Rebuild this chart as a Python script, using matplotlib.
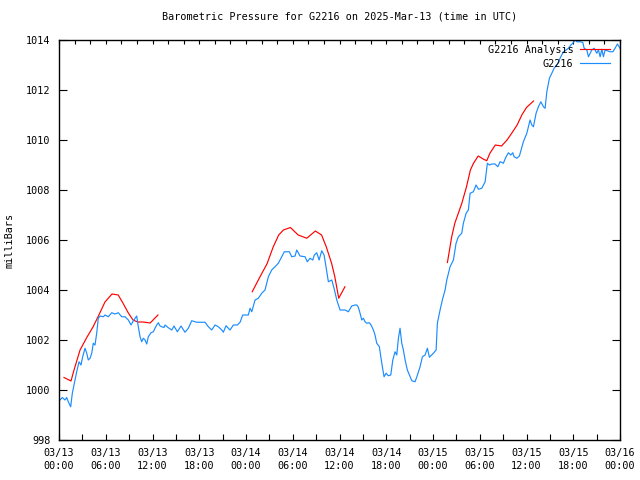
import matplotlib
matplotlib.use('Agg')
import matplotlib.pyplot as plt
import numpy as np

# hours since 2025-03-13 00:00 UTC
obs_hours = [0.13, 0.42, 0.77, 0.99, 1.19, 1.50, 1.71, 2.05, 2.27, 2.57, 2.82, 3.04, 3.34, 3.56,
             3.76, 3.98, 4.20, 4.40, 4.62, 4.84, 5.04, 5.26, 5.69, 5.91, 6.33, 6.77, 7.19, 7.61,
             8.05, 8.47, 8.90, 9.24, 9.54, 9.76, 9.97, 10.18, 10.40, 10.62, 10.82, 11.04, 11.26,
             11.46, 11.81, 12.11, 12.32, 12.54, 12.75, 12.97, 13.18, 13.48, 13.61, 14.03, 14.47,
             14.76, 15.19, 15.66, 16.17, 16.60, 17.03, 17.68, 18.74, 19.17, 19.60, 20.03, 20.45,
             20.89, 21.09, 21.44, 21.95, 22.38, 22.89, 23.24, 23.58, 24.30, 24.52, 24.74, 25.16,
             25.58, 26.02, 26.44, 26.87, 27.30, 27.73, 28.15, 28.59, 28.92, 29.56, 29.87, 30.30,
             30.51, 30.94, 31.58, 31.87, 32.22, 32.57, 32.77, 33.08, 33.38, 33.72, 34.02, 34.27,
             34.57, 35.01, 35.30, 35.65, 36.07, 36.71, 37.14, 37.57, 38.00, 38.22, 38.42, 38.64,
             38.86, 39.06, 39.28, 39.50, 39.83, 40.05, 40.35, 40.56, 40.78, 41.12, 41.30, 41.50,
             41.72, 41.98, 42.27, 42.58, 42.84, 43.13, 43.35, 43.56, 43.77, 43.99, 44.20, 44.42,
             44.71, 45.06, 45.28, 45.70, 46.00, 46.34, 46.64, 46.98, 47.28, 47.54, 48.05, 48.40,
             48.56, 48.91, 49.20, 49.55, 49.77, 50.19, 50.62, 50.96, 51.26, 51.69, 51.90, 52.25,
             52.54, 52.76, 53.18, 53.53, 53.83, 54.26, 54.69, 54.98, 55.24, 55.55, 55.97, 56.32,
             56.61, 57.03, 57.38, 57.68, 57.98, 58.24, 58.41, 58.76, 59.09, 59.31, 59.60, 60.04,
             60.46, 60.68, 60.89, 61.23, 61.53, 61.84, 62.17, 62.39, 62.61, 62.94, 63.25, 63.54,
             63.89, 64.10, 64.40, 64.74, 65.08, 65.38, 65.69, 65.94, 66.24, 66.46, 66.88, 67.23,
             67.40, 67.74, 67.95, 68.38, 68.68, 69.02, 69.23, 69.45, 69.67, 69.87, 70.09, 70.73,
             71.08, 71.37, 71.67, 72.00]
obs_mb = [999.60, 999.70, 999.60, 999.70, 999.53, 999.33, 999.87, 1000.40, 1000.73, 1001.13,
          1001.00, 1001.33, 1001.67, 1001.47, 1001.20, 1001.27, 1001.47, 1001.87, 1001.80,
          1002.27, 1002.87, 1002.96, 1002.93, 1003.00, 1002.93, 1003.09, 1003.04, 1003.09,
          1002.93, 1002.93, 1002.80, 1002.60, 1002.77, 1002.87, 1002.96, 1002.53, 1002.13,
          1001.93, 1002.07, 1002.00, 1001.84, 1002.13, 1002.29, 1002.33, 1002.47, 1002.60,
          1002.69, 1002.56, 1002.53, 1002.50, 1002.60, 1002.49, 1002.40, 1002.56, 1002.33,
          1002.56, 1002.31, 1002.47, 1002.77, 1002.71, 1002.71, 1002.53, 1002.40, 1002.60,
          1002.53, 1002.40, 1002.31, 1002.57, 1002.40, 1002.60, 1002.60, 1002.71, 1003.00,
          1003.00, 1003.27, 1003.13, 1003.60, 1003.67, 1003.87, 1004.00, 1004.53, 1004.80,
          1004.93, 1005.07, 1005.33, 1005.53, 1005.53, 1005.33, 1005.36, 1005.60, 1005.36,
          1005.33, 1005.13, 1005.27, 1005.20, 1005.40, 1005.49, 1005.20, 1005.57, 1005.40,
          1004.93, 1004.33, 1004.40, 1004.07, 1003.60, 1003.20, 1003.20, 1003.13, 1003.36,
          1003.40, 1003.40, 1003.31, 1003.07, 1002.80, 1002.87, 1002.73, 1002.67, 1002.69,
          1002.60, 1002.40, 1002.20, 1001.87, 1001.73, 1001.33, 1000.93, 1000.53, 1000.67,
          1000.57, 1000.60, 1001.20, 1001.53, 1001.40, 1002.07, 1002.47, 1001.87, 1001.60,
          1001.20, 1000.80, 1000.53, 1000.37, 1000.33, 1000.60, 1000.93, 1001.33, 1001.40,
          1001.67, 1001.31, 1001.47, 1001.60, 1002.67, 1003.20, 1003.60, 1004.00, 1004.40,
          1004.93, 1005.20, 1005.87, 1006.13, 1006.27, 1006.67, 1007.07, 1007.20, 1007.87,
          1007.93, 1008.20, 1008.03, 1008.07, 1008.33, 1009.07, 1009.00, 1009.04, 1009.04,
          1008.93, 1009.13, 1009.07, 1009.33, 1009.49, 1009.40, 1009.49, 1009.33, 1009.27,
          1009.36, 1009.60, 1009.93, 1010.27, 1010.80, 1010.60, 1010.53, 1011.07, 1011.33,
          1011.53, 1011.33, 1011.27, 1011.93, 1012.47, 1012.67, 1012.87, 1013.00, 1013.13,
          1013.33, 1013.53, 1013.60, 1013.67, 1013.80, 1013.87, 1014.00, 1013.93, 1013.93,
          1013.90, 1013.67, 1013.60, 1013.33, 1013.60, 1013.67, 1013.47, 1013.60, 1013.33,
          1013.63, 1013.33, 1013.60, 1013.53, 1013.53, 1013.67, 1013.84, 1013.67]

# analysis runs (three separate pieces)
ana1_hours = [0.64, 1.54, 1.93, 2.70, 3.60, 4.36, 5.00, 5.90, 6.80, 7.60, 8.20, 8.90, 9.50,
              10.10, 10.80, 11.70, 12.70]
ana1_mb = [1000.50, 1000.36, 1000.80, 1001.60, 1002.12, 1002.52, 1002.92, 1003.52, 1003.84,
           1003.80, 1003.48, 1003.08, 1002.80, 1002.72, 1002.72, 1002.68, 1003.00]
ana2_hours = [24.8, 25.8, 26.7, 27.5, 28.2, 28.8, 29.7, 30.7, 31.8, 32.9, 33.7, 34.3, 35.0,
              35.4, 35.9, 36.7]
ana2_mb = [1003.93, 1004.53, 1005.05, 1005.73, 1006.20, 1006.40, 1006.50, 1006.20, 1006.07,
           1006.36, 1006.20, 1005.73, 1005.05, 1004.53, 1003.67, 1004.13]
ana3_hours = [49.85, 50.4, 50.8, 51.7, 52.3, 52.8, 53.2, 53.8, 54.5, 54.9, 55.3, 56.0, 56.8,
              57.5, 58.1, 58.8, 59.4, 60.0, 60.9]
ana3_mb = [1005.10, 1006.13, 1006.67, 1007.47, 1008.13, 1008.80, 1009.07, 1009.36, 1009.23,
           1009.17, 1009.47, 1009.80, 1009.76, 1010.00, 1010.27, 1010.60, 1011.00, 1011.30,
           1011.56]

x_tick_hours = [0, 6, 12, 18, 24, 30, 36, 42, 48, 54, 60, 66, 72]
x_tick_labels = ['03/13\n00:00', '03/13\n06:00', '03/13\n12:00', '03/13\n18:00',
                 '03/14\n00:00', '03/14\n06:00', '03/14\n12:00', '03/14\n18:00',
                 '03/15\n00:00', '03/15\n06:00', '03/15\n12:00', '03/15\n18:00',
                 '03/16\n00:00']
y_ticks = [998, 1000, 1002, 1004, 1006, 1008, 1010, 1012, 1014]

plt.rcParams['font.family'] = ['DejaVu Sans Mono']
plt.rcParams['font.size'] = 7.3

fig = plt.figure(figsize=(6.4, 4.8), dpi=100)
ax = fig.add_axes([59 / 640, 40 / 480, 561 / 640, 400 / 480])

red = '#ff0000'
blue = '#1a8cff'
ax.plot(ana1_hours, ana1_mb, color=red, lw=0.85, label='G2216 Analysis')
ax.plot(ana2_hours, ana2_mb, color=red, lw=0.85)
ax.plot(ana3_hours, ana3_mb, color=red, lw=0.85)
ax.plot(obs_hours, obs_mb, color=blue, lw=0.85, label='G2216')

ax.set_xlim(0, 72)
ax.set_ylim(998, 1014)
ax.set_xticks(x_tick_hours)
ax.set_xticklabels(x_tick_labels, linespacing=1.3)
ax.set_xticks(np.arange(0, 73, 3), minor=True)
ax.set_yticks(y_ticks)
ax.tick_params(axis='x', which='both', direction='in', length=4, width=0.8, pad=6, top=False)
ax.tick_params(axis='y', which='both', direction='in', length=6, width=0.8, pad=6, right=True)

# top axis carries 2-hour ticks without labels
top = ax.secondary_xaxis('top')
top.set_xticks(np.arange(0, 73, 2))
top.set_xticklabels([])
top.tick_params(direction='in', length=3, width=0.8)
top.spines['top'].set_visible(False)

for s in ax.spines.values():
    s.set_linewidth(1.0)

ax.set_title('Barometric Pressure for G2216 on 2025-Mar-13 (time in UTC)', fontsize=7.3, pad=15)
fig.text(10 / 640, 0.5, 'milliBars', rotation=90, ha='center', va='center')

ax.legend(loc='upper right', bbox_to_anchor=(1 - 10 / 561, 1 - 5 / 400), frameon=False,
          markerfirst=False, handlelength=3.0, handletextpad=0.6, labelspacing=0.35,
          borderpad=0, borderaxespad=0)

fig.savefig('out.png', dpi=100)
